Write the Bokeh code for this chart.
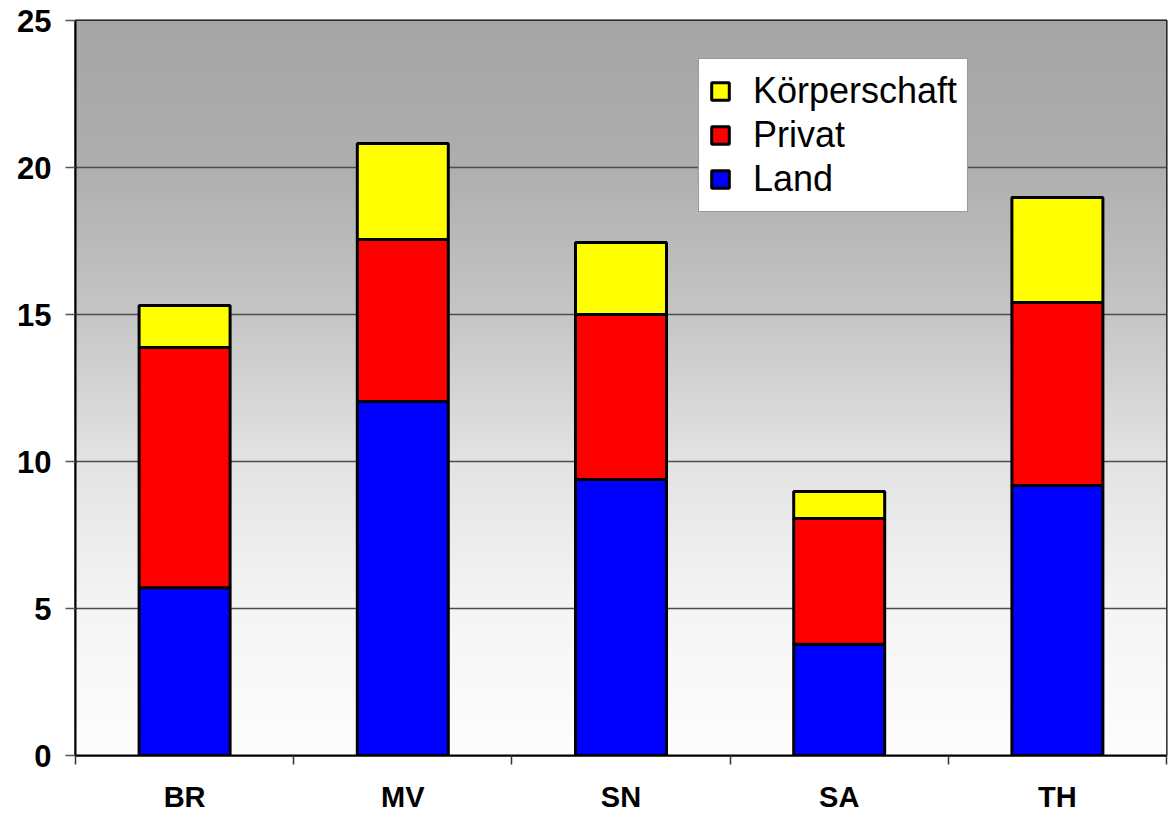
import numpy as np
from bokeh.plotting import figure
from bokeh.models import Range1d, FixedTicker, Legend, LegendItem, ColumnDataSource
from bokeh.embed import file_html
from bokeh.resources import INLINE

categories = ["BR", "MV", "SN", "SA", "TH"]
land = [5.71, 12.04, 9.39, 3.78, 9.18]
privat = [8.17, 5.51, 5.61, 4.28, 6.23]
koerperschaft = [1.43, 3.27, 2.45, 0.92, 3.57]
series = ["Land", "Privat", "Körperschaft"]
colors = ["#0000FF", "#FF0000", "#FFFF00"]
y_ticks = [0, 5, 10, 15, 20, 25]

FONT = "Liberation Sans"

p = figure(width=1168, height=817, output_backend="svg", toolbar_location=None,
           x_range=Range1d(0, len(categories)), y_range=Range1d(0, 25))
p.min_border_left = 75
p.min_border_right = 2
p.min_border_top = 20
p.min_border_bottom = 62
p.background_fill_color = "white"
p.border_fill_color = "white"
p.outline_line_color = "black"
p.outline_line_width = 2

# gradient background (decorative)
n = 250
yy = np.linspace(0, 25, n)
g = np.interp(yy, [0, 5, 10, 15, 20, 25], [253, 245, 227, 198, 175, 166]).astype(np.uint8)
img = np.empty((n, 1, 4), dtype=np.uint8)
img[:, 0, 0] = g
img[:, 0, 1] = g
img[:, 0, 2] = g
img[:, 0, 3] = 255
img32 = img.view(dtype=np.uint32).reshape((n, 1))
p.image_rgba(image=[img32], x=0, y=0, dw=len(categories), dh=25, level="image")

xpos = [i + 0.5 for i in range(len(categories))]
src = ColumnDataSource(dict(x=xpos, Land=land, Privat=privat, **{"Körperschaft": koerperschaft}))
renderers = p.vbar_stack(series, x="x", width=0.417, color=colors, source=src,
                         line_color="black", line_width=3)

# grid
p.xgrid.grid_line_color = None
p.ygrid.ticker = FixedTicker(ticks=y_ticks)
p.ygrid.grid_line_color = "#4d4d4d"
p.ygrid.grid_line_width = 1.5

# y axis
p.yaxis.ticker = FixedTicker(ticks=y_ticks)
p.yaxis.axis_line_color = "black"
p.yaxis.axis_line_width = 2
p.yaxis.major_tick_out = 10
p.yaxis.major_tick_in = 0
p.yaxis.major_tick_line_color = "#555555"
p.yaxis.major_tick_line_width = 1.5
p.yaxis.minor_tick_line_color = None
p.yaxis.major_label_text_font = FONT
p.yaxis.major_label_text_font_style = "bold"
p.yaxis.major_label_text_font_size = "31px"
p.yaxis.major_label_text_color = "black"
p.yaxis.major_label_standoff = 14

# x axis
p.xaxis.ticker = FixedTicker(ticks=xpos, minor_ticks=list(range(len(categories) + 1)))
p.xaxis.major_label_overrides = {float(x): c for x, c in zip(xpos, categories)}
p.xaxis.axis_line_color = "black"
p.xaxis.axis_line_width = 2
p.xaxis.major_tick_out = 0
p.xaxis.major_tick_in = 0
p.xaxis.minor_tick_out = 9
p.xaxis.minor_tick_in = 0
p.xaxis.minor_tick_line_color = "#333333"
p.xaxis.minor_tick_line_width = 1.5
p.xaxis.major_label_text_font = FONT
p.xaxis.major_label_text_font_style = "bold"
p.xaxis.major_label_text_font_size = "29px"
p.xaxis.major_label_text_color = "black"
p.xaxis.major_label_standoff = 16

items = [LegendItem(label=s, renderers=[r]) for s, r in zip(series, renderers)][::-1]
legend = Legend(items=items, location=(623, 543))
legend.label_text_font = FONT
legend.label_text_font_size = "36px"
legend.label_text_color = "black"
legend.label_height = 44
legend.glyph_height = 22
legend.glyph_width = 22
legend.spacing = 0
legend.padding = 10
legend.margin = 0
legend.label_standoff = 22
legend.border_line_color = "#333333"
legend.border_line_width = 1.5
legend.background_fill_color = "white"
legend.background_fill_alpha = 1.0
p.add_layout(legend, "center")

open("out.html", "w").write(file_html(p, INLINE))
